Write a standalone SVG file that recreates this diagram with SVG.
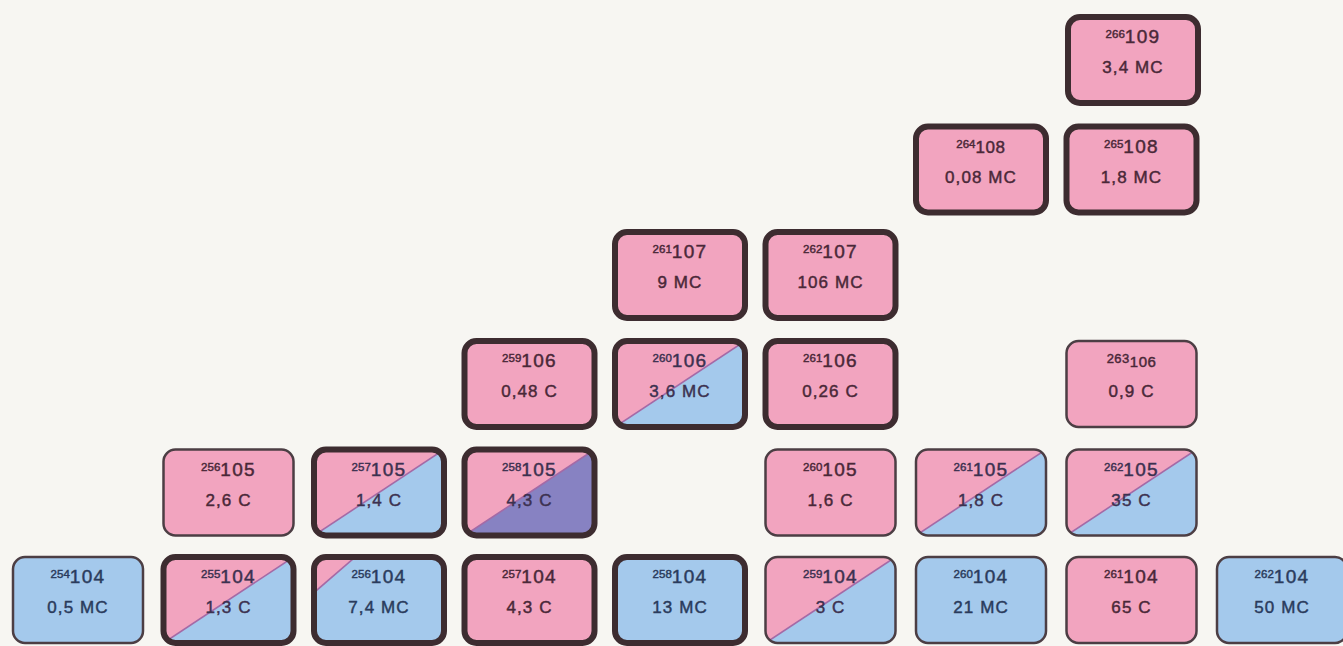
<svg xmlns="http://www.w3.org/2000/svg" width="1343" height="646" viewBox="0 0 1343 646">
<style>
.bg{fill:#f7f6f2}
.pk{fill:#f2a4bf}
.bl{fill:#a4c9ec}
.pu{fill:#8782c2}
.frame{fill:none;stroke:#3d2c30}
.thin{stroke-width:2.5;stroke:#4c3e44}
.thick{stroke-width:6}
.diag{stroke:#a46aa6;stroke-width:1.6}
text{font-family:"Liberation Sans",Arial,sans-serif;text-anchor:middle;stroke-width:0.45px}
.t1{font-size:19px;letter-spacing:1.3px}
.sup{font-size:11.5px;letter-spacing:0}
.t2{font-size:17px;letter-spacing:1.1px}
.tp{fill:#4a2838;stroke:#4a2838}
.tb{fill:#2a3b5c;stroke:#2a3b5c}
.ts{fill:#3c3150;stroke:#3c3150}
</style>
<defs>
<clipPath id="box"><rect x="-65" y="-43" width="130" height="86" rx="12"/></clipPath>
</defs>
<rect class="bg" x="0" y="0" width="1343" height="646"/>
<g id="connectors"/>

<!-- Row 104 -->
<g id="n254-104" transform="translate(78,600)">
<rect class="bl" x="-65" y="-43" width="130" height="86" rx="12"/>
<rect class="frame thin" x="-65" y="-43" width="130" height="86" rx="12"/>
<text class="t1 tb" y="-17"><tspan class="sup" dy="-5">254</tspan><tspan dy="5">104</tspan></text>
<text class="t2 tb" y="13">0,5 MC</text>
</g>
<g id="n255-104" transform="translate(228.5,600)">
<g clip-path="url(#box)"><rect class="pk" x="-65" y="-43" width="130" height="86"/><polygon class="bl" points="-65,43 65,-43 65,43"/><line class="diag" x1="-65" y1="43" x2="65" y2="-43"/></g>
<rect class="frame thick" x="-65" y="-43" width="130" height="86" rx="12"/>
<text class="t1 ts" y="-17"><tspan class="sup" dy="-5">255</tspan><tspan dy="5">104</tspan></text>
<text class="t2 ts" y="13">1,3 C</text>
</g>
<g id="n256-104" transform="translate(379,600)">
<g clip-path="url(#box)"><rect class="bl" x="-65" y="-43" width="130" height="86"/><polygon class="pk" points="-65,-43 -23,-43 -65,-7"/><line class="diag" x1="-70" y1="-3" x2="-18" y2="-48"/></g>
<rect class="frame thick" x="-65" y="-43" width="130" height="86" rx="12"/>
<text class="t1 tb" y="-17"><tspan class="sup" dy="-5">256</tspan><tspan dy="5">104</tspan></text>
<text class="t2 tb" y="13">7,4 MC</text>
</g>
<g id="n257-104" transform="translate(529.5,600)">
<rect class="pk" x="-65" y="-43" width="130" height="86" rx="12"/>
<rect class="frame thick" x="-65" y="-43" width="130" height="86" rx="12"/>
<text class="t1 tp" y="-17"><tspan class="sup" dy="-5">257</tspan><tspan dy="5">104</tspan></text>
<text class="t2 tp" y="13">4,3 C</text>
</g>
<g id="n258-104" transform="translate(680,600)">
<rect class="bl" x="-65" y="-43" width="130" height="86" rx="12"/>
<rect class="frame thick" x="-65" y="-43" width="130" height="86" rx="12"/>
<text class="t1 tb" y="-17"><tspan class="sup" dy="-5">258</tspan><tspan dy="5">104</tspan></text>
<text class="t2 tb" y="13">13 MC</text>
</g>
<g id="n259-104" transform="translate(830.5,600)">
<g clip-path="url(#box)"><rect class="pk" x="-65" y="-43" width="130" height="86"/><polygon class="bl" points="-65,43 65,-43 65,43"/><line class="diag" x1="-65" y1="43" x2="65" y2="-43"/></g>
<rect class="frame thin" x="-65" y="-43" width="130" height="86" rx="12"/>
<text class="t1 ts" y="-17"><tspan class="sup" dy="-5">259</tspan><tspan dy="5">104</tspan></text>
<text class="t2 ts" y="13">3 C</text>
</g>
<g id="n260-104" transform="translate(981,600)">
<rect class="bl" x="-65" y="-43" width="130" height="86" rx="12"/>
<rect class="frame thin" x="-65" y="-43" width="130" height="86" rx="12"/>
<text class="t1 tb" y="-17"><tspan class="sup" dy="-5">260</tspan><tspan dy="5">104</tspan></text>
<text class="t2 tb" y="13">21 MC</text>
</g>
<g id="n261-104" transform="translate(1131.5,600)">
<rect class="pk" x="-65" y="-43" width="130" height="86" rx="12"/>
<rect class="frame thin" x="-65" y="-43" width="130" height="86" rx="12"/>
<text class="t1 tp" y="-17"><tspan class="sup" dy="-5">261</tspan><tspan dy="5">104</tspan></text>
<text class="t2 tp" y="13">65 C</text>
</g>
<g id="n262-104" transform="translate(1282,600)">
<rect class="bl" x="-65" y="-43" width="130" height="86" rx="12"/>
<rect class="frame thin" x="-65" y="-43" width="130" height="86" rx="12"/>
<text class="t1 tb" y="-17"><tspan class="sup" dy="-5">262</tspan><tspan dy="5">104</tspan></text>
<text class="t2 tb" y="13">50 MC</text>
</g>

<!-- Row 105 -->
<g id="n256-105" transform="translate(228.5,492.5)">
<rect class="pk" x="-65" y="-43" width="130" height="86" rx="12"/>
<rect class="frame thin" x="-65" y="-43" width="130" height="86" rx="12"/>
<text class="t1 tp" y="-17"><tspan class="sup" dy="-5">256</tspan><tspan dy="5">105</tspan></text>
<text class="t2 tp" y="13">2,6 C</text>
</g>
<g id="n257-105" transform="translate(379,492.5)">
<g clip-path="url(#box)"><rect class="pk" x="-65" y="-43" width="130" height="86"/><polygon class="bl" points="-65,43 65,-43 65,43"/><line class="diag" x1="-65" y1="43" x2="65" y2="-43"/></g>
<rect class="frame thick" x="-65" y="-43" width="130" height="86" rx="12"/>
<text class="t1 ts" y="-17"><tspan class="sup" dy="-5">257</tspan><tspan dy="5">105</tspan></text>
<text class="t2 ts" y="13">1,4 C</text>
</g>
<g id="n258-105" transform="translate(529.5,492.5)">
<g clip-path="url(#box)"><rect class="pk" x="-65" y="-43" width="130" height="86"/><polygon class="pu" points="-65,43 65,-43 65,43"/><line class="diag" x1="-65" y1="43" x2="65" y2="-43"/></g>
<rect class="frame thick" x="-65" y="-43" width="130" height="86" rx="12"/>
<text class="t1 ts" y="-17"><tspan class="sup" dy="-5">258</tspan><tspan dy="5">105</tspan></text>
<text class="t2 ts" y="13">4,3 C</text>
</g>
<g id="n260-105" transform="translate(830.5,492.5)">
<rect class="pk" x="-65" y="-43" width="130" height="86" rx="12"/>
<rect class="frame thin" x="-65" y="-43" width="130" height="86" rx="12"/>
<text class="t1 tp" y="-17"><tspan class="sup" dy="-5">260</tspan><tspan dy="5">105</tspan></text>
<text class="t2 tp" y="13">1,6 C</text>
</g>
<g id="n261-105" transform="translate(981,492.5)">
<g clip-path="url(#box)"><rect class="pk" x="-65" y="-43" width="130" height="86"/><polygon class="bl" points="-65,43 65,-43 65,43"/><line class="diag" x1="-65" y1="43" x2="65" y2="-43"/></g>
<rect class="frame thin" x="-65" y="-43" width="130" height="86" rx="12"/>
<text class="t1 ts" y="-17"><tspan class="sup" dy="-5">261</tspan><tspan dy="5">105</tspan></text>
<text class="t2 ts" y="13">1,8 C</text>
</g>
<g id="n262-105" transform="translate(1131.5,492.5)">
<g clip-path="url(#box)"><rect class="pk" x="-65" y="-43" width="130" height="86"/><polygon class="bl" points="-65,43 65,-43 65,43"/><line class="diag" x1="-65" y1="43" x2="65" y2="-43"/></g>
<rect class="frame thin" x="-65" y="-43" width="130" height="86" rx="12"/>
<text class="t1 ts" y="-17"><tspan class="sup" dy="-5">262</tspan><tspan dy="5">105</tspan></text>
<text class="t2 ts" y="13">35 C</text>
</g>

<!-- Row 106 -->
<g id="n259-106" transform="translate(529.5,384)">
<rect class="pk" x="-65" y="-43" width="130" height="86" rx="12"/>
<rect class="frame thick" x="-65" y="-43" width="130" height="86" rx="12"/>
<text class="t1 tp" y="-17"><tspan class="sup" dy="-5">259</tspan><tspan dy="5">106</tspan></text>
<text class="t2 tp" y="13">0,48 C</text>
</g>
<g id="n260-106" transform="translate(680,384)">
<g clip-path="url(#box)"><rect class="pk" x="-65" y="-43" width="130" height="86"/><polygon class="bl" points="-65,43 65,-43 65,43"/><line class="diag" x1="-65" y1="43" x2="65" y2="-43"/></g>
<rect class="frame thick" x="-65" y="-43" width="130" height="86" rx="12"/>
<text class="t1 ts" y="-17"><tspan class="sup" dy="-5">260</tspan><tspan dy="5">106</tspan></text>
<text class="t2 ts" y="13">3,6 MC</text>
</g>
<g id="n261-106" transform="translate(830.5,384)">
<rect class="pk" x="-65" y="-43" width="130" height="86" rx="12"/>
<rect class="frame thick" x="-65" y="-43" width="130" height="86" rx="12"/>
<text class="t1 tp" y="-17"><tspan class="sup" dy="-5">261</tspan><tspan dy="5">106</tspan></text>
<text class="t2 tp" y="13">0,26 C</text>
</g>
<g id="n263-106" transform="translate(1131.5,384)">
<rect class="pk" x="-65" y="-43" width="130" height="86" rx="12"/>
<rect class="frame thin" x="-65" y="-43" width="130" height="86" rx="12"/>
<text class="tp" y="-17" style="font-size:15px;letter-spacing:0.5px"><tspan style="font-size:13px" dy="-4">263</tspan><tspan dy="4">106</tspan></text>
<text class="t2 tp" y="13">0,9 C</text>
</g>

<!-- Row 107 -->
<g id="n261-107" transform="translate(680,275)">
<rect class="pk" x="-65" y="-43" width="130" height="86" rx="12"/>
<rect class="frame thick" x="-65" y="-43" width="130" height="86" rx="12"/>
<text class="t1 tp" y="-17"><tspan class="sup" dy="-5">261</tspan><tspan dy="5">107</tspan></text>
<text class="t2 tp" y="13">9 MC</text>
</g>
<g id="n262-107" transform="translate(830.5,275)">
<rect class="pk" x="-65" y="-43" width="130" height="86" rx="12"/>
<rect class="frame thick" x="-65" y="-43" width="130" height="86" rx="12"/>
<text class="t1 tp" y="-17"><tspan class="sup" dy="-5">262</tspan><tspan dy="5">107</tspan></text>
<text class="t2 tp" y="13">106 MC</text>
</g>

<!-- Row 108 -->
<g id="n264-108" transform="translate(981,169.5)">
<rect class="pk" x="-65" y="-43" width="130" height="86" rx="12"/>
<rect class="frame thick" x="-65" y="-43" width="130" height="86" rx="12"/>
<text class="t1 tp" y="-17" style="font-size:17px;letter-spacing:0.6px"><tspan class="sup" dy="-5">264</tspan><tspan dy="5">108</tspan></text>
<text class="t2 tp" y="13">0,08 MC</text>
</g>
<g id="n265-108" transform="translate(1131.5,169.5)">
<rect class="pk" x="-65" y="-43" width="130" height="86" rx="12"/>
<rect class="frame thick" x="-65" y="-43" width="130" height="86" rx="12"/>
<text class="t1 tp" y="-17"><tspan class="sup" dy="-5">265</tspan><tspan dy="5">108</tspan></text>
<text class="t2 tp" y="13">1,8 MC</text>
</g>

<!-- Row 109 -->
<g id="n266-109" transform="translate(1133,60)">
<rect class="pk" x="-65" y="-43" width="130" height="86" rx="12"/>
<rect class="frame thick" x="-65" y="-43" width="130" height="86" rx="12"/>
<text class="t1 tp" y="-17"><tspan class="sup" dy="-5">266</tspan><tspan dy="5">109</tspan></text>
<text class="t2 tp" y="13">3,4 MC</text>
</g>
</svg>
